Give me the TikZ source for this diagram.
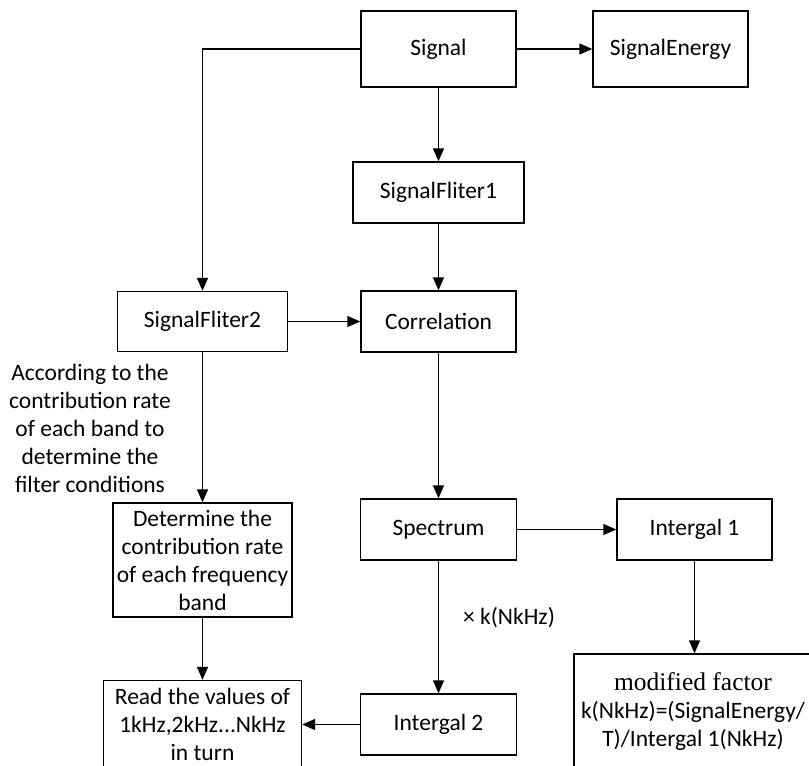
\documentclass[tikz,border=0pt]{standalone}
\usepackage{fontspec}
\setmainfont{Carlito}
\newfontfamily\timesfont{Liberation Serif}
\usetikzlibrary{arrows.meta}
\begin{document}
\begin{tikzpicture}[x=1pt,y=-1pt,font=\fontsize{23.5}{28}\selectfont,
  box/.style={draw,line width=1.4pt,inner sep=0pt,align=center},
  flow/.style={line width=1.4pt,-{Triangle[length=13pt,width=11pt]}}]
  \useasboundingbox (0,0) rectangle (809,766);
  \clip (0,0) rectangle (809,766);
  \node[box,minimum width=155pt,minimum height=76pt] (sig) at (438.5,49) {Signal};
  \node[box,minimum width=155pt,minimum height=76pt] (energy) at (670.5,49) {SignalEnergy};
  \node[box,minimum width=171pt,minimum height=61pt] (filt1) at (438.5,192.5) {SignalFliter1};
  \node[box,minimum width=170pt,minimum height=60pt] (filt2) at (202.5,321.5) {SignalFliter2};
  \node[box,minimum width=155pt,minimum height=61pt] (corr) at (438.5,321.5) {Correlation};
  \node[box,minimum width=156pt,minimum height=61pt] (spec) at (438.5,529.5) {Spectrum};
  \node[box,minimum width=155pt,minimum height=61pt] (int1) at (694.5,529.5) {Intergal 1};
  \node[box,minimum width=179pt,minimum height=114pt] (contrib) at (202.5,560)
    {Determine the\\contribution rate\\of each frequency\\band};
  \node[box,minimum width=156pt,minimum height=61pt] (int2) at (438.5,724.5) {Intergal 2};
  \node[box,minimum width=198pt,minimum height=88pt] (readv) at (202.5,724.5)
    {Read the values of\\1kHz,2kHz...NkHz\\in turn};
  \node[box,minimum width=238pt,minimum height=116pt] (factor) at (693,712)
    {{\timesfont\fontsize{25.5}{28}\selectfont modified factor}\\k(NkHz)=(SignalEnergy/\\T)/Intergal 1(NkHz)};
  \node[align=center] (note) at (90,428)
    {According to the\\contribution rate\\of each band to\\determine the\\filter conditions};
  \node (kmul) at (509,618) {× k(NkHz)};
  \draw[flow] (sig) -- (energy);
  \draw[flow] (sig) -- (filt1);
  \draw[flow] (sig.west) -| (filt2.north);
  \draw[flow] (filt1) -- (corr);
  \draw[flow] (filt2) -- (corr);
  \draw[flow] (filt2) -- (contrib);
  \draw[flow] (corr) -- (spec);
  \draw[flow] (spec) -- (int1);
  \draw[flow] (spec) -- (int2);
  \draw[flow] (int1) -- (int1 |- factor.north);
  \draw[flow] (contrib) -- (readv);
  \draw[flow] (int2) -- (readv);
\end{tikzpicture}
\end{document}
